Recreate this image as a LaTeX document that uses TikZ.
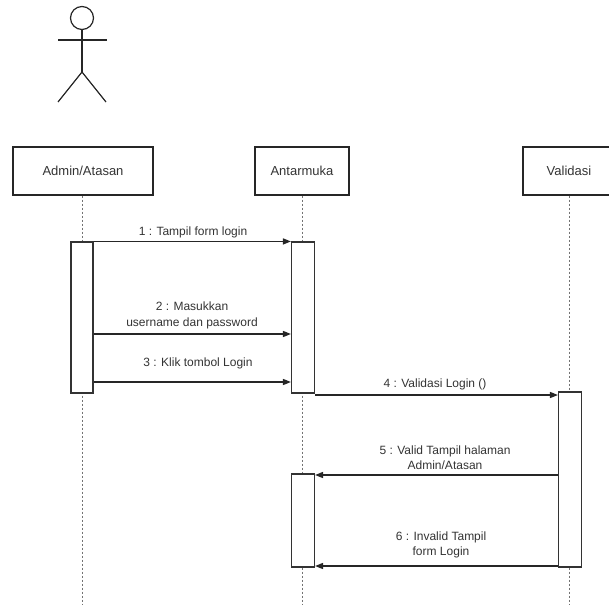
\documentclass[tikz,border=0pt]{standalone}
\usepackage{fontspec}
\setmainfont{Liberation Sans}
\usetikzlibrary{arrows.meta}
\tikzset{
  head/.style={draw=black!85, line width=1.2pt, rectangle, minimum height=48pt, inner sep=0pt, font=\fontsize{13}{15}\selectfont, text=black!80},
  lifeline/.style={draw=black!55, line width=1pt, dash pattern=on 2pt off 2pt},
  actbox/.style={draw=black!80, fill=white, line width=1.1pt, rectangle, minimum width=23pt, inner sep=0pt},
  msg/.style={draw=black!85, line width=1.3pt, -{Triangle[length=8pt,width=6pt]}},
  lbl/.style={font=\fontsize{12}{15.5}\selectfont, text=black!80, align=center, inner sep=0pt},
  figure/.style={draw=black!85, line width=1.2pt}
}
\begin{document}
\begin{tikzpicture}[x=1pt,y=-1pt]
\useasboundingbox (0,0) rectangle (609,604);
\begin{scope}
\clip (0,0) rectangle (609,604);
% actor
\node[figure, circle, minimum size=23pt, inner sep=0pt] (headc) at (82,18) {};
\coordinate (neck) at (82,29.5);
\coordinate (hip) at (82,72);
\coordinate (armL) at (58,40);
\coordinate (armR) at (107,40);
\coordinate (legL) at (58,102);
\coordinate (legR) at (106,102);
\draw[figure] (headc.south) -- (hip);
\draw[figure] (armL) -- (armR);
\draw[figure] (legL) -- (hip) -- (legR);
% heads
\node[head, minimum width=140pt] (hA) at (83,171) {Admin/Atasan};
\node[head, minimum width=94pt] (hB) at (302,171) {Antarmuka};
\node[head, minimum width=92pt] (hV) at (569,171) {Validasi};
% lifelines ends
\coordinate (eA) at (82,604);
\coordinate (eB) at (302.5,604);
\coordinate (eV) at (569.5,604);
\draw[lifeline] (hA.south -| eA) -- (eA);
\draw[lifeline] (hB.south -| eB) -- (eB);
\draw[lifeline] (hV.south -| eV) -- (eV);
% activations
\node[actbox, minimum width=22pt, minimum height=151pt] (aA) at (82,317.5) {};
\node[actbox, minimum height=151pt] (aB) at (303,317.5) {};
\node[actbox, minimum height=175pt] (aV) at (570,479.5) {};
\node[actbox, minimum height=93pt] (aB2) at (303,520.5) {};
% messages
\coordinate (y2) at (0,334);
\coordinate (y3) at (0,382);
\coordinate (y4) at (0,395);
\coordinate (y5) at (0,475);
\coordinate (y6) at (0,566);
\draw[msg] (aA.north east) -- (aB.north west);
\draw[msg] (aA.east |- y2) -- (aB.west |- y2);
\draw[msg] (aA.east |- y3) -- (aB.west |- y3);
\draw[msg] (aB.east |- y4) -- (aV.west |- y4);
\draw[msg] (aV.west |- y5) -- (aB2.east |- y5);
\draw[msg] (aV.west |- y6) -- (aB2.east |- y6);
% labels
\node[lbl] (l1) at (193,232) {1 : Tampil form login};
\node[lbl] (l2) at (192,315.5) {2 : Masukkan\\username dan password};
\node[lbl] (l3) at (198,363) {3 : Klik tombol Login};
\node[lbl] (l4) at (435,384) {4 : Validasi Login ()};
\node[lbl] (l5) at (445,457.5) {5 : Valid Tampil halaman\\Admin/Atasan};
\node[lbl] (l6) at (441,545) {6 : Invalid Tampil\\form Login};
\end{scope}
\end{tikzpicture}
\end{document}
